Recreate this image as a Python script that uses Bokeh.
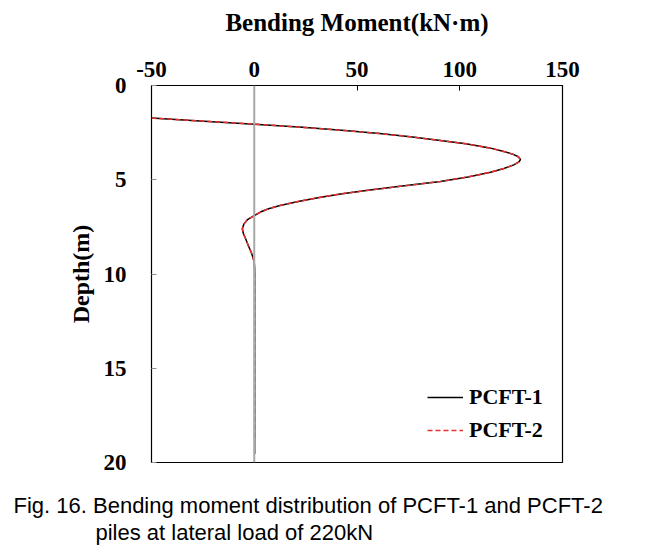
from bokeh.plotting import figure
from bokeh.models import Range1d, FixedTicker, Span, Legend, LegendItem, Title
from bokeh.embed import file_html
from bokeh.resources import INLINE

# ---- data ----
depth_pcft1 = [1.73, 1.89, 2.05, 2.22, 2.39, 2.55, 2.72, 2.92, 3.09, 3.31, 3.47, 3.63, 3.78, 3.93,
               4.07, 4.21, 4.40, 4.60, 4.85, 5.09, 5.35, 5.57, 5.75, 5.95, 6.14, 6.37, 6.54, 6.70,
               6.90, 7.12, 7.34, 7.60, 7.85, 8.10, 8.49, 8.93, 9.37, 9.80, 11.0, 13.0, 15.0, 17.0, 19.55]
moment_pcft1 = [-50, -24.5, 0, 23.5, 44, 61, 76, 90.6, 103, 114.5, 120.5, 125.5, 128.5, 129.6,
                128.6, 126.3, 121.5, 115, 104, 90.6, 71, 54.5, 42, 31, 22, 12.5, 7, 3.3,
                0, -3.3, -5.0, -5.8, -5.3, -4.3, -2.9, -1.2, 0, 0.2, 0.2, 0.2, 0.2, 0.2, 0.2]

depth_pcft2 = [1.73, 1.89, 2.05, 2.22, 2.39, 2.55, 2.72, 2.92, 3.09, 3.31, 3.47, 3.63, 3.78, 3.93,
               4.07, 4.21, 4.40, 4.60, 4.85, 5.09, 5.35, 5.57, 5.75, 5.95, 6.14, 6.37, 6.54, 6.70,
               6.90, 7.12, 7.34, 7.60, 7.85, 8.10, 8.49, 8.93, 9.37, 9.80, 11.0, 13.0, 15.0, 17.0, 18.65]
moment_pcft2 = [-50, -24.5, 0, 23.5, 44, 61, 76, 90.6, 103, 114.5, 120.5, 125.5, 128.5, 129.6,
                128.6, 126.3, 121.5, 115, 104, 90.6, 71, 54.5, 42, 31, 22, 12.5, 7, 3.3,
                0, -3.3, -5.0, -5.8, -5.3, -4.3, -2.9, -1.2, 0, 0.2, 0.2, 0.2, 0.2, 0.2, 0.2]

x_ticks = [-50, 0, 50, 100, 150]
y_ticks = [0, 5, 10, 15, 20]
series_names = ["PCFT-1", "PCFT-2"]
x_title = "Bending Moment(kN\u00b7m)"
y_title = "Depth(m)"
caption_1 = "Fig. 16. Bending moment distribution of PCFT-1 and PCFT-2"
caption_2 = "piles at lateral load of 220kN"

SERIF = "Liberation Serif"
SANS = "Liberation Sans"

p = figure(width=640, height=554, output_backend="svg", toolbar_location=None,
           x_range=Range1d(x_ticks[0], x_ticks[-1]), y_range=Range1d(y_ticks[-1], y_ticks[0]),
           x_axis_location="above",
           min_border_left=151, min_border_right=78, min_border_top=85, min_border_bottom=92)

p.background_fill_color = "white"
p.border_fill_color = "white"
p.outline_line_color = "black"
p.outline_line_width = 1.2
p.xgrid.visible = False
p.ygrid.visible = False

# axes
xa = p.xaxis[0]
xa.ticker = FixedTicker(ticks=x_ticks)
xa.major_label_overrides = {t: str(t) for t in x_ticks}
xa.axis_label = x_title
ya = p.yaxis[0]
ya.ticker = FixedTicker(ticks=y_ticks)
ya.axis_label = y_title

for ax in (xa, ya):
    ax.major_tick_in = 5
    ax.major_tick_out = 0
    ax.minor_tick_line_color = None
    ax.axis_line_color = "black"
    ax.major_label_text_font = SERIF
    ax.major_label_text_font_style = "bold"
    ax.major_label_text_font_size = "23px"
    ax.major_label_text_color = "black"
    ax.axis_label_text_font = SERIF
    ax.axis_label_text_font_style = "bold"
    ax.axis_label_text_color = "black"

xa.major_tick_line_color = "black"
ya.major_tick_line_color = "#909090"
xa.axis_label_text_font_size = "25px"
ya.axis_label_text_font_size = "24px"
xa.major_label_standoff = 9
xa.axis_label_standoff = 23
ya.major_label_standoff = 25
ya.major_label_orientation = "horizontal"
ya.axis_label_standoff = 7

# zero reference line
p.add_layout(Span(location=0, dimension="height", line_color="#a8a8a8", line_width=2))

r1 = p.line(moment_pcft1, depth_pcft1, line_color="black", line_width=1.5)
r2 = p.line(moment_pcft2, depth_pcft2, line_color="#e8302c", line_width=1.5, line_dash="5 3")

legend = Legend(items=[LegendItem(label=series_names[0], renderers=[r1]),
                       LegendItem(label=series_names[1], renderers=[r2])],
                location=(276, 18), padding=0, margin=0, spacing=5,
                glyph_width=36, glyph_height=28, label_standoff=6,
                border_line_color=None, background_fill_alpha=0,
                label_text_font=SERIF, label_text_font_style="bold",
                label_text_font_size="22px", label_text_color="black")
p.add_layout(legend)

# two-line caption below the frame
t1 = Title(text=caption_1, align="left", offset=-138, standoff=56,
           text_font=SANS, text_font_size="22px", text_font_style="normal", text_color="black")
t2 = Title(text=caption_2, align="left", offset=-56, standoff=-52, vertical_align="top",
           text_font=SANS, text_font_size="22px", text_font_style="normal", text_color="black")
p.add_layout(t1, "below")
p.add_layout(t2, "below")

open("out.html", "w").write(file_html(p, INLINE))
